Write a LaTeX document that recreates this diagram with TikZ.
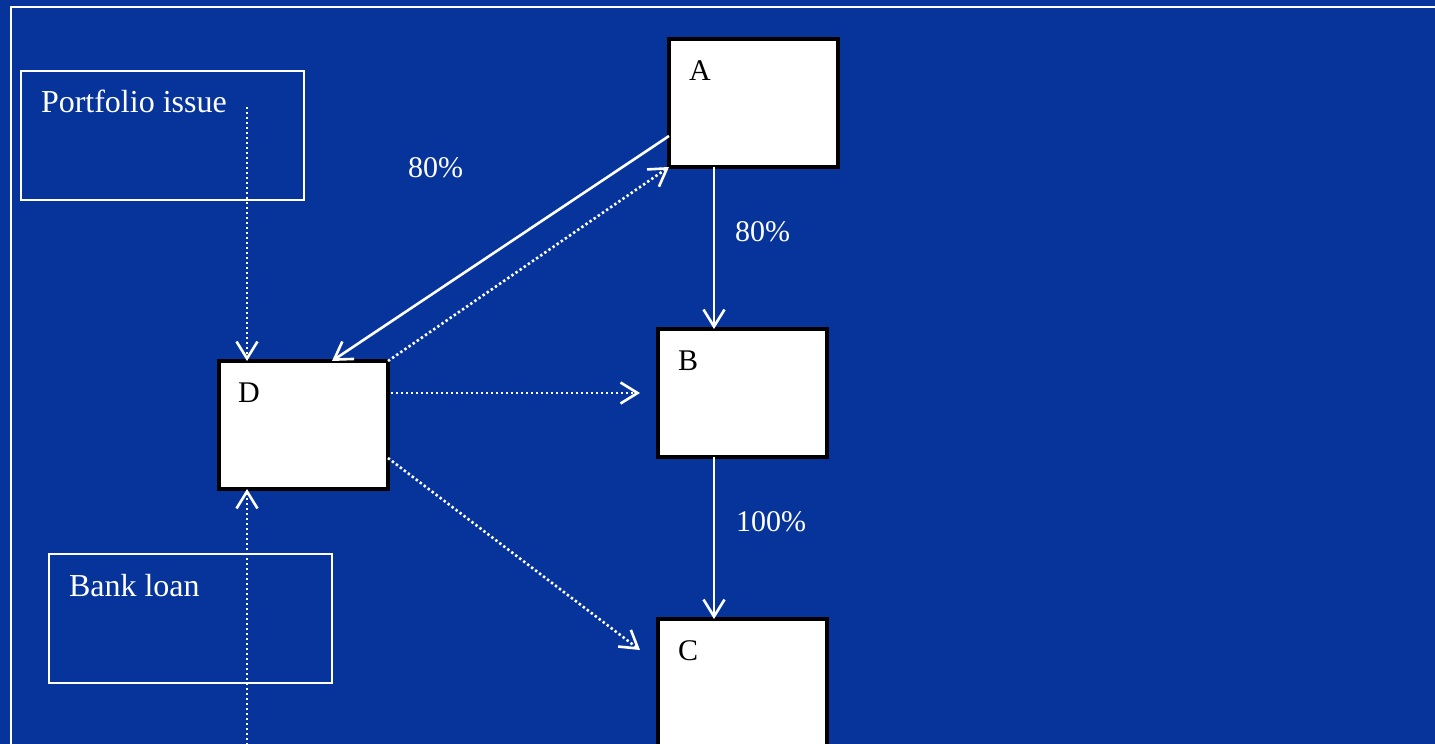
\documentclass[tikz,border=0pt]{standalone}
\usepackage{fontspec}
\setmainfont{Liberation Serif}
\usetikzlibrary{arrows.meta,calc}
\definecolor{bgblue}{RGB}{6,52,155}
\tikzset{
 every node/.style={inner sep=0pt, outer sep=0pt},
 whitebox/.style={draw=white, line width=2.5pt, anchor=north west, minimum width=283pt, minimum height=129pt},
 entbox/.style={draw=black, fill=white, line width=3.2pt, anchor=north west, minimum width=169pt, minimum height=128pt},
 boxtext/.style={anchor=base west, text=white, font=\fontsize{32}{38}\selectfont},
 enttext/.style={anchor=base west, text=black, font=\fontsize{30}{36}\selectfont},
 pct/.style={anchor=base west, text=white, font=\fontsize{30}{36}\selectfont},
 barbtip/.style={-{Straight Barb[length=17pt,width=21pt,line width=2.6pt]}},
 solidarrow/.style={draw=white, line width=2.6pt, barbtip},
 dotarrow/.style={draw=white, line width=2.6pt, dash pattern=on 2.4pt off 2.6pt, barbtip},
}
\begin{document}
\begin{tikzpicture}[x=1pt,y=-1pt]
\useasboundingbox (0,0) rectangle (1435,744);
\clip (0,0) rectangle (1435,744);
\fill[bgblue] (0,0) rectangle (1435,744);
% outer frame
\draw[white, line width=2.6pt] (11,770) -- (11,7) -- (1460,7);
% source boxes
\node[whitebox] (pf) at (21,71) {};
\node[whitebox] (bl) at (49,554) {};
\node[boxtext] (tpf) at (41,112) {Portfolio issue};
\node[boxtext] (tbl) at (69,596) {Bank loan};
% entity boxes
\node[entbox] (A) at (669,39) {};
\node[entbox] (B) at (658,329) {};
\node[entbox] (C) at (658,619) {};
\node[entbox] (D) at (219,361) {};
\node[enttext] (tA) at (689,80) {A};
\node[enttext] (tB) at (678,370) {B};
\node[enttext] (tC) at (678,660) {C};
\node[enttext] (tD) at (238,402) {D};
% percentages
\node[pct] (l1) at (408,177) {80\%};
\node[pct] (l2) at (735,241) {80\%};
\node[pct] (l3) at (736,531) {100\%};
% connectors
\coordinate (p1) at (247,107);
\draw[dotarrow] (p1) -- (p1 |- D.north);
\coordinate (p2) at (247,770);
\draw[dotarrow] (p2) -- (p2 |- D.south);
\coordinate (a1) at ($(A.south west)+(0,-31)$);
\coordinate (d1) at ($(D.north west)+(113,0)$);
\draw[solidarrow] (a1) -- (d1);
\draw[dotarrow] (D.north east) -- (A.south west);
\coordinate (d2) at ($(D.north east)+(3,32)$);
\draw[dotarrow, shorten >=18pt] (d2) -- (d2 -| B.west);
\coordinate (d3) at ($(D.north east)+(0,97)$);
\coordinate (c1) at ($(C.north west)+(-18,31)$);
\draw[dotarrow] (d3) -- (c1);
\coordinate (a2) at ($(A.south west)+(45,0)$);
\draw[solidarrow] (a2) -- (a2 |- B.north);
\draw[solidarrow] (a2 |- B.south) -- (a2 |- C.north);
\end{tikzpicture}
\end{document}
